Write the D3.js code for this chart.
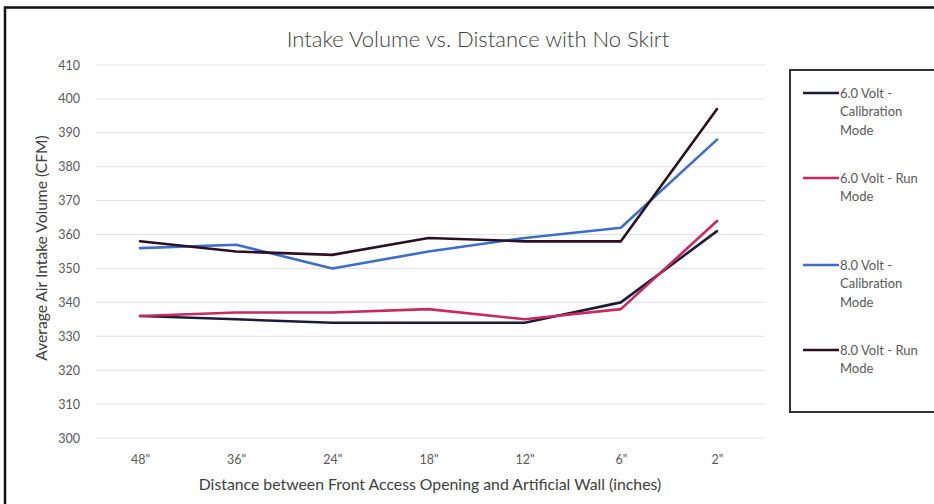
<!DOCTYPE html>
<html>
<head>
<meta charset="utf-8">
<script src="https://cdn.jsdelivr.net/npm/d3@7/dist/d3.min.js"></script>
<style>
  html, body { margin: 0; padding: 0; background: #fff; }
  svg { display: block; font-family: Lato, "Open Sans", sans-serif; }
</style>
</head>
<body>
<svg id="chart" width="934" height="504"></svg>
<script>
const categories = ['48"', '36"', '24"', '18"', '12"', '6"', '2"'];
const seriesNames = ["6.0 Volt - Calibration Mode", "6.0 Volt - Run Mode", "8.0 Volt - Calibration Mode", "8.0 Volt - Run Mode"];
const legendLines = [["6.0 Volt -", "Calibration", "Mode"], ["6.0 Volt - Run", "Mode"], ["8.0 Volt -", "Calibration", "Mode"], ["8.0 Volt - Run", "Mode"]];
const v6Cal = [336, 335, 334, 334, 334, 340, 361];
const v6Run = [336, 337, 337, 338, 335, 338, 364];
const v8Cal = [356, 357, 350, 355, 359, 362, 388];
const v8Run = [358, 355, 354, 359, 358, 358, 397];
const yTicks = [300, 310, 320, 330, 340, 350, 360, 370, 380, 390, 400, 410];
const colors = ["#1d1b3b", "#c8295f", "#3d6ecb", "#2b1024"];

const seriesValues = [v6Cal, v6Run, v8Cal, v8Run];
const svg = d3.select("#chart");

// outer frame
svg.append("rect").attr("x", 5).attr("y", 7.5).attr("width", 940).attr("height", 520)
  .attr("fill", "none").attr("stroke", "#111").attr("stroke-width", 2.5);

const x = d3.scalePoint().domain(categories).range([140, 717]);
const y = d3.scaleLinear().domain([300, 410]).range([438, 65]);

// gridlines
svg.append("g").selectAll("line").data(yTicks).join("line")
  .attr("x1", 96).attr("x2", 765)
  .attr("y1", d => y(d)).attr("y2", d => y(d))
  .attr("stroke", "#e3e3e3").attr("stroke-width", 1);

// y axis
const yAxis = svg.append("g").attr("transform", "translate(80,0)")
  .call(d3.axisLeft(y).tickValues(yTicks).tickSize(0).tickPadding(0));
yAxis.select(".domain").remove();
yAxis.selectAll("text").attr("fill", "#595959").style("font-size", "12.5px")
  .style("font-family", "Lato, 'Open Sans', sans-serif");

// x axis
const xAxis = svg.append("g").attr("transform", "translate(0,455)")
  .call(d3.axisBottom(x).tickSize(0).tickPadding(0));
xAxis.select(".domain").remove();
xAxis.selectAll("text").attr("fill", "#595959").style("font-size", "12.5px")
  .style("font-family", "Lato, 'Open Sans', sans-serif");

// lines
const line = d3.line().x((d, i) => x(categories[i])).y(d => y(d));
seriesValues.forEach((vals, k) => {
  svg.append("path").datum(vals).attr("d", line)
    .attr("fill", "none").attr("stroke", colors[k]).attr("stroke-width", 2.6)
    .attr("stroke-linejoin", "round").attr("stroke-linecap", "round");
});

// title
svg.append("text").attr("x", 478).attr("y", 47).attr("text-anchor", "middle")
  .attr("fill", "#404040").style("font-size", "22px").style("font-weight", 300)
  .text("Intake Volume vs. Distance with No Skirt");

// axis titles
svg.append("text").attr("x", 430).attr("y", 490).attr("text-anchor", "middle")
  .attr("fill", "#404040").style("font-size", "15.8px")
  .text("Distance between Front Access Opening and Artificial Wall (inches)");
svg.append("text").attr("transform", "translate(47,248) rotate(-90)").attr("text-anchor", "middle")
  .attr("fill", "#404040").style("font-size", "15.6px")
  .text("Average Air Intake Volume (CFM)");

// legend
svg.append("rect").attr("x", 790).attr("y", 70).attr("width", 160).attr("height", 342)
  .attr("fill", "#fff").attr("stroke", "#333").attr("stroke-width", 2);
const legendY = [93, 178, 265, 350];
legendLines.forEach((lines, k) => {
  svg.append("line").attr("x1", 803).attr("x2", 839).attr("y1", legendY[k]).attr("y2", legendY[k])
    .attr("stroke", colors[k]).attr("stroke-width", 2.6);
  const t = svg.append("text").attr("x", 840).attr("y", legendY[k] + 4.5)
    .attr("fill", "#595959").style("font-size", "13px");
  lines.forEach((s, j) => {
    t.append("tspan").attr("x", 840).attr("dy", j === 0 ? 0 : 18.5).text(s);
  });
});
</script>
</body>
</html>
